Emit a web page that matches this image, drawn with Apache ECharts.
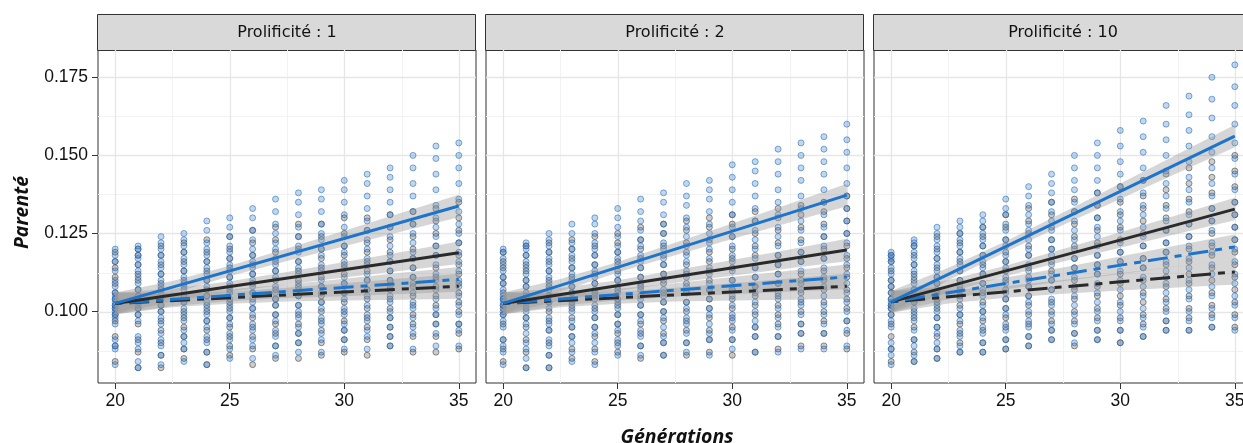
<!DOCTYPE html>
<html><head><meta charset="utf-8">
<script src="https://cdn.jsdelivr.net/npm/echarts@6/dist/echarts.min.js"></script>
<style>html,body{margin:0;padding:0;background:#fff}#c{width:1243px;height:443px}</style>
</head><body><div id="c"></div>
<script>
const generations = [20,21,22,23,24,25,26,27,28,29,30,31,32,33,34,35];
const panelTitles = ['Prolificité : 1','Prolificité : 2','Prolificité : 10'];
const xTicks = [20,25,30,35];
const xMinor = [22.5,27.5,32.5];
const yTicks = [0.100,0.125,0.150,0.175];
const yMinor = [0.0875,0.1125,0.1375,0.1625];

// Panel 1 points (one list per generation)
const blueP1 = [
[.083,.088,.089,.091,.096,.098,.099,.100,.101,.102,.103,.104,.105,.106,.108,.110,.113,.116,.118,.120],
[.082,.084,.088,.090,.092,.097,.099,.101,.102,.103,.105,.107,.109,.111,.113,.115,.117,.118,.120,.121],
[.083,.086,.089,.091,.093,.096,.098,.100,.102,.104,.106,.108,.110,.112,.114,.116,.118,.120,.122,.124],
[.084,.088,.090,.092,.094,.097,.099,.101,.103,.105,.107,.109,.111,.113,.115,.117,.119,.121,.123,.125],
[.083,.087,.090,.092,.095,.097,.099,.101,.103,.105,.108,.110,.112,.114,.116,.118,.120,.122,.126,.129],
[.085,.088,.091,.093,.096,.098,.100,.102,.104,.107,.109,.111,.113,.115,.117,.119,.121,.124,.127,.130],
[.085,.089,.091,.094,.096,.099,.101,.103,.106,.108,.110,.112,.114,.116,.118,.120,.123,.126,.130,.133],
[.086,.089,.092,.094,.097,.099,.102,.104,.106,.108,.111,.113,.115,.117,.120,.122,.125,.128,.132,.136],
[.087,.090,.093,.095,.098,.100,.102,.105,.107,.109,.112,.114,.116,.119,.121,.124,.127,.131,.135,.138],
[.087,.091,.093,.096,.098,.101,.103,.106,.108,.110,.113,.115,.118,.120,.123,.125,.128,.132,.136,.139],
[.088,.091,.094,.096,.099,.101,.104,.106,.109,.111,.114,.116,.119,.121,.124,.127,.131,.135,.139,.142],
[.088,.092,.094,.097,.099,.102,.105,.107,.110,.112,.115,.117,.120,.123,.126,.129,.133,.137,.141,.144],
[.089,.092,.095,.098,.100,.103,.105,.108,.110,.113,.116,.118,.121,.124,.127,.131,.135,.139,.143,.146],
[.088,.093,.095,.098,.101,.103,.106,.109,.111,.114,.117,.119,.122,.125,.128,.132,.137,.141,.146,.150],
[.089,.093,.096,.099,.101,.104,.107,.110,.112,.115,.118,.121,.124,.127,.130,.134,.139,.144,.149,.153],
[.089,.094,.096,.099,.102,.105,.108,.110,.113,.116,.119,.122,.125,.128,.132,.136,.141,.146,.150,.154]
];
const grayP1 = [
[.084,.089,.092,.097,.099,.101,.102,.104,.106,.109,.111,.114,.116,.119],
[.082,.087,.091,.096,.099,.101,.103,.105,.107,.110,.112,.115,.118,.120],
[.082,.086,.090,.094,.097,.100,.102,.104,.107,.109,.112,.115,.118,.121],
[.085,.088,.092,.095,.098,.100,.103,.105,.108,.110,.113,.116,.119,.122],
[.083,.087,.091,.094,.097,.100,.102,.105,.107,.110,.113,.116,.119,.123],
[.086,.089,.092,.095,.098,.101,.103,.106,.108,.111,.114,.117,.120,.124],
[.083,.088,.092,.095,.098,.101,.104,.106,.109,.112,.115,.118,.122,.126],
[.085,.089,.093,.096,.099,.102,.104,.107,.110,.113,.116,.119,.123,.127],
[.085,.090,.093,.096,.099,.102,.105,.108,.110,.113,.116,.120,.124,.128],
[.086,.090,.094,.097,.100,.103,.105,.108,.111,.114,.117,.120,.124,.128],
[.087,.091,.094,.097,.100,.103,.106,.109,.112,.115,.118,.121,.125,.130],
[.086,.091,.095,.098,.101,.104,.107,.110,.113,.116,.119,.122,.126,.130],
[.089,.092,.095,.098,.101,.104,.107,.110,.113,.116,.119,.123,.127,.131],
[.087,.092,.096,.099,.102,.105,.108,.111,.114,.117,.120,.124,.128,.132],
[.087,.092,.096,.099,.102,.105,.108,.111,.114,.118,.121,.125,.129,.133],
[.088,.093,.096,.100,.103,.106,.109,.112,.115,.118,.122,.126,.130,.135]
];
// Panel 2 points
const blueP2 = [
[.083,.087,.089,.091,.095,.097,.099,.100,.102,.103,.104,.105,.107,.109,.111,.113,.115,.117,.119,.120],
[.082,.085,.088,.090,.093,.096,.098,.100,.102,.104,.106,.108,.110,.112,.114,.116,.118,.120,.121,.122],
[.082,.086,.089,.091,.094,.096,.098,.101,.103,.105,.107,.109,.111,.113,.115,.117,.119,.121,.123,.125],
[.084,.087,.090,.092,.095,.097,.100,.102,.104,.106,.108,.110,.112,.114,.116,.118,.120,.122,.125,.128],
[.083,.087,.090,.093,.095,.098,.100,.102,.105,.107,.109,.111,.113,.115,.118,.120,.122,.125,.128,.130],
[.086,.089,.091,.094,.096,.099,.101,.103,.106,.108,.110,.112,.115,.117,.119,.121,.124,.127,.130,.133],
[.086,.089,.092,.094,.097,.099,.102,.104,.107,.109,.111,.114,.116,.118,.121,.123,.126,.129,.132,.136],
[.086,.090,.092,.095,.098,.100,.103,.105,.107,.110,.112,.115,.117,.120,.122,.125,.128,.131,.135,.138],
[.087,.090,.093,.096,.098,.101,.103,.106,.108,.111,.113,.116,.118,.121,.124,.127,.130,.134,.137,.141],
[.086,.091,.093,.096,.099,.101,.104,.107,.109,.112,.114,.117,.120,.122,.125,.128,.132,.136,.139,.142],
[.088,.091,.094,.097,.099,.102,.105,.107,.110,.113,.116,.118,.121,.124,.127,.131,.135,.139,.143,.147],
[.087,.092,.095,.097,.100,.103,.106,.108,.111,.114,.117,.120,.123,.126,.129,.133,.137,.141,.145,.148],
[.087,.092,.095,.098,.101,.104,.106,.109,.112,.115,.118,.121,.124,.127,.131,.135,.139,.144,.148,.152],
[.088,.093,.096,.099,.102,.104,.107,.110,.113,.116,.119,.122,.126,.129,.133,.137,.142,.146,.150,.154],
[.088,.093,.096,.099,.102,.105,.108,.111,.114,.117,.121,.124,.127,.131,.135,.139,.144,.148,.152,.156],
[.089,.094,.097,.100,.103,.106,.109,.112,.115,.118,.122,.125,.129,.133,.137,.141,.146,.151,.155,.160]
];
const grayP2 = [
[.084,.088,.091,.096,.099,.101,.102,.104,.106,.109,.111,.114,.116,.119],
[.082,.087,.091,.095,.098,.101,.103,.105,.108,.110,.113,.115,.118,.121],
[.082,.086,.090,.094,.097,.100,.103,.105,.108,.110,.113,.116,.119,.122],
[.085,.088,.092,.095,.098,.101,.103,.106,.108,.111,.114,.117,.120,.123],
[.084,.088,.092,.095,.098,.101,.104,.106,.109,.112,.115,.118,.121,.124],
[.087,.090,.093,.096,.099,.102,.104,.107,.110,.113,.116,.119,.122,.125],
[.085,.089,.093,.096,.099,.102,.105,.108,.111,.114,.117,.120,.123,.127],
[.086,.090,.093,.097,.100,.103,.106,.109,.112,.115,.118,.121,.125,.128],
[.086,.090,.094,.097,.100,.103,.106,.109,.112,.115,.119,.122,.126,.129],
[.087,.091,.094,.098,.101,.104,.107,.110,.113,.116,.119,.123,.127,.130],
[.086,.091,.095,.098,.101,.104,.107,.110,.114,.117,.120,.124,.128,.131],
[.087,.092,.095,.099,.102,.105,.108,.111,.114,.118,.121,.125,.129,.132],
[.088,.092,.096,.099,.102,.105,.109,.112,.115,.118,.122,.126,.130,.133],
[.089,.093,.096,.100,.103,.106,.109,.112,.116,.119,.123,.127,.131,.134],
[.089,.093,.097,.100,.103,.107,.110,.113,.117,.120,.124,.128,.132,.135],
[.088,.093,.097,.101,.104,.107,.111,.114,.117,.121,.125,.129,.133,.137]
];
// Panel 3 points
const blueP3 = [
[.083,.086,.088,.090,.095,.097,.099,.101,.102,.103,.104,.106,.108,.110,.112,.114,.116,.117,.118,.119],
[.084,.086,.089,.091,.094,.097,.099,.101,.103,.105,.107,.109,.111,.113,.115,.117,.119,.121,.122,.123],
[.085,.088,.090,.093,.095,.098,.100,.102,.104,.107,.109,.111,.113,.115,.117,.119,.121,.123,.125,.127],
[.087,.089,.092,.094,.097,.099,.101,.104,.106,.108,.110,.113,.115,.117,.119,.121,.123,.125,.127,.129],
[.087,.090,.093,.095,.098,.100,.102,.105,.107,.109,.112,.114,.116,.118,.121,.123,.125,.127,.129,.131],
[.088,.091,.094,.096,.099,.101,.104,.106,.109,.111,.114,.116,.118,.121,.123,.126,.128,.131,.133,.136],
[.089,.092,.095,.097,.100,.103,.105,.108,.110,.113,.115,.118,.120,.123,.126,.128,.131,.134,.137,.140],
[.091,.094,.096,.099,.102,.104,.107,.110,.112,.115,.118,.120,.123,.126,.129,.132,.135,.138,.141,.144],
[.090,.093,.096,.099,.102,.105,.108,.111,.114,.117,.120,.123,.126,.129,.132,.135,.139,.142,.146,.150],
[.091,.094,.097,.100,.103,.106,.109,.112,.115,.118,.121,.124,.127,.130,.134,.138,.142,.146,.150,.154],
[.090,.094,.097,.100,.103,.107,.110,.113,.116,.119,.122,.126,.129,.132,.136,.140,.144,.148,.153,.158],
[.092,.095,.098,.101,.105,.108,.111,.114,.117,.121,.124,.127,.131,.134,.138,.142,.146,.151,.156,.161],
[.094,.097,.100,.103,.106,.109,.113,.116,.119,.122,.126,.129,.133,.137,.141,.145,.150,.155,.160,.166],
[.094,.097,.100,.104,.107,.110,.114,.117,.121,.124,.128,.131,.135,.139,.143,.148,.153,.158,.163,.169],
[.095,.098,.101,.105,.108,.112,.115,.119,.122,.126,.129,.133,.137,.141,.146,.151,.156,.162,.168,.175],
[.094,.098,.102,.105,.109,.112,.116,.120,.123,.127,.131,.135,.139,.144,.149,.154,.160,.166,.172,.179]
];
const grayP3 = [
[.084,.088,.092,.096,.099,.101,.102,.104,.106,.108,.110,.113,.116,.118],
[.084,.087,.091,.095,.098,.100,.103,.105,.107,.110,.112,.115,.118,.121],
[.085,.088,.092,.095,.098,.101,.103,.106,.109,.111,.114,.117,.120,.124],
[.087,.090,.093,.096,.099,.102,.105,.107,.110,.113,.116,.119,.122,.125],
[.087,.090,.094,.097,.100,.103,.106,.109,.112,.115,.118,.121,.124,.127],
[.088,.091,.095,.098,.101,.104,.107,.110,.113,.116,.119,.123,.127,.131],
[.089,.092,.096,.099,.102,.105,.108,.111,.114,.118,.121,.125,.129,.133],
[.091,.094,.097,.100,.103,.107,.110,.113,.116,.120,.123,.127,.131,.135],
[.089,.093,.097,.100,.104,.107,.110,.114,.117,.121,.124,.128,.132,.136],
[.091,.094,.098,.101,.105,.108,.112,.115,.118,.122,.126,.130,.134,.138],
[.090,.094,.098,.102,.105,.109,.112,.116,.119,.123,.127,.131,.135,.140],
[.092,.096,.099,.103,.106,.110,.114,.117,.121,.125,.129,.133,.137,.142],
[.094,.097,.101,.104,.108,.111,.115,.119,.122,.126,.130,.134,.139,.144],
[.094,.098,.101,.105,.109,.112,.116,.120,.124,.128,.132,.136,.141,.146],
[.095,.099,.102,.106,.110,.114,.118,.121,.125,.129,.133,.138,.143,.148],
[.095,.099,.103,.107,.111,.115,.119,.123,.127,.131,.135,.140,.145,.150]
];

// Fitted lines (value at generation 20 and 35), one pair per panel
const fitX = [20,35];
const blueSolidFit  = [[.1026,.1338],[.1026,.1373],[.1031,.1562]];
const blackSolidFit = [[.1026,.1188],[.1026,.1197],[.1031,.1328]];
const blueDashFit   = [[.1026,.1103],[.1026,.1111],[.1031,.1207]];
const blackDashFit  = [[.1026,.1081],[.1026,.1081],[.1031,.1127]];

// Confidence bands
const bandX = [20,22.5,25,27.5,30,32.5,35];
const blueSolidLo = [[.0991,.1058,.1113,.1162,.1209,.1256,.1302],[.0991,.1064,.1125,.1180,.1232,.1285,.1337],[.0996,.1100,.1191,.1277,.1360,.1444,.1526]];
const blueSolidHi = [[.1061,.1098,.1147,.1202,.1259,.1316,.1374],[.1061,.1104,.1159,.1220,.1282,.1345,.1409],[.1066,.1140,.1225,.1317,.1410,.1504,.1598]];
const blackSolidLo = [[.0991,.1033,.1063,.1087,.1109,.1131,.1152],[.0991,.1035,.1066,.1092,.1115,.1139,.1161],[.0996,.1061,.1113,.1160,.1204,.1249,.1292]];
const blackSolidHi = [[.1061,.1073,.1097,.1127,.1159,.1191,.1224],[.1061,.1075,.1100,.1132,.1165,.1199,.1233],[.1066,.1101,.1147,.1200,.1254,.1309,.1364]];
const blueDashLo = [[.0991,.1018,.1033,.1043,.1049,.1056,.1063],[.0991,.1019,.1035,.1047,.1055,.1063,.1071],[.0996,.1039,.1071,.1097,.1120,.1144,.1167]];
const blueDashHi = [[.1061,.1060,.1071,.1087,.1105,.1124,.1143],[.1061,.1061,.1073,.1091,.1111,.1131,.1151],[.1066,.1081,.1109,.1141,.1176,.1212,.1247]];
const blackDashLo = [[.0991,.1014,.1025,.1032,.1035,.1038,.1041],[.0991,.1014,.1025,.1032,.1035,.1038,.1041],[.0996,.1026,.1044,.1057,.1067,.1077,.1087]];
const blackDashHi = [[.1061,.1056,.1063,.1076,.1091,.1106,.1121],[.1061,.1056,.1063,.1076,.1091,.1106,.1121],[.1066,.1068,.1082,.1101,.1123,.1145,.1167]];

const X_MIN = 19.25, X_MAX = 35.75, Y_MIN = 0.07712, Y_MAX = 0.18375;
const gridLeft = [98, 486, 874];
const GRID_TOP = 50, GRID_W = 378, GRID_H = 333;
const BLUE = '#1C74CC', DARK = '#2A2A2A';
const TICK_FONT = 'Liberation Sans';

const chart = echarts.init(document.getElementById('c'), null, {renderer:'canvas'});

const grids = [], xAxes = [], yAxes = [], series = [];
const blues = [blueP1, blueP2, blueP3], grays = [grayP1, grayP2, grayP3];

for (let p = 0; p < 3; p++) {
  grids.push({left: gridLeft[p], top: GRID_TOP, width: GRID_W, height: GRID_H, show: true,
    backgroundColor: '#fff', borderColor: '#333', borderWidth: 1, containLabel: false, outerBoundsMode: 'none'});
  xAxes.push({type: 'value', gridIndex: p, min: X_MIN, max: X_MAX,
    axisLine: {show: false}, splitLine: {show: false},
    axisTick: {show: true, customValues: xTicks, length: 6, lineStyle: {color: '#333', width: 1}},
    axisLabel: {customValues: xTicks, margin: 9, color: '#111', fontSize: 17.5, fontFamily: TICK_FONT}});
  yAxes.push({type: 'value', gridIndex: p, min: Y_MIN, max: Y_MAX,
    axisLine: {show: false}, splitLine: {show: false},
    axisTick: {show: p === 0, customValues: yTicks, length: 6, lineStyle: {color: '#333', width: 1}},
    axisLabel: {show: p === 0, customValues: yTicks, margin: 10, color: '#111', fontSize: 17.5, fontFamily: TICK_FONT,
      formatter: v => v.toFixed(3)}});

  // grid lines
  series.push({type: 'custom', xAxisIndex: p, yAxisIndex: p, silent: true, z: 0, data: [[20, 0.1]],
    renderItem: (params, api) => {
      const cs = params.coordSys, ch = [];
      xMinor.forEach(v => { const px = Math.round(api.coord([v, 0.1])[0]) + 0.5;
        ch.push({type: 'line', shape: {x1: px, y1: cs.y, x2: px, y2: cs.y + cs.height}, style: {stroke: '#F2F2F2', lineWidth: 1}}); });
      yMinor.forEach(v => { const py = Math.round(api.coord([20, v])[1]) + 0.5;
        ch.push({type: 'line', shape: {x1: cs.x, y1: py, x2: cs.x + cs.width, y2: py}, style: {stroke: '#F2F2F2', lineWidth: 1}}); });
      xTicks.forEach(v => { const px = Math.round(api.coord([v, 0.1])[0]) + 0.5;
        ch.push({type: 'line', shape: {x1: px, y1: cs.y, x2: px, y2: cs.y + cs.height}, style: {stroke: '#E6E6E6', lineWidth: 1.3}}); });
      yTicks.forEach(v => { const py = Math.round(api.coord([20, v])[1]) + 0.5;
        ch.push({type: 'line', shape: {x1: cs.x, y1: py, x2: cs.x + cs.width, y2: py}, style: {stroke: '#E6E6E6', lineWidth: 1.3}}); });
      return {type: 'group', children: ch};
    }});

  const mk = (arr) => generations.flatMap((g, i) => arr[i].map(v => [g, v]));
  series.push({type: 'scatter', xAxisIndex: p, yAxisIndex: p, data: mk(grays[p]), symbolSize: 6, z: 1, silent: true,
    itemStyle: {color: 'rgba(90,90,90,0.38)', borderColor: 'rgba(50,50,50,0.65)', borderWidth: 1}});
  series.push({type: 'scatter', xAxisIndex: p, yAxisIndex: p, data: mk(blues[p]), symbolSize: 6, z: 1, silent: true,
    itemStyle: {color: 'rgba(55,125,200,0.38)', borderColor: 'rgba(28,100,185,0.68)', borderWidth: 1}});

  const band = (lo, hi) => ({type: 'custom', xAxisIndex: p, yAxisIndex: p, silent: true, z: 2, data: [[20, 0.1]], clip: true,
    renderItem: (params, api) => {
      const pts = [];
      bandX.forEach((x, i) => pts.push(api.coord([x, hi[i]])));
      for (let i = bandX.length - 1; i >= 0; i--) pts.push(api.coord([bandX[i], lo[i]]));
      return {type: 'polygon', shape: {points: pts}, style: {fill: 'rgba(153,153,153,0.4)'}};
    }});
  series.push(band(blueSolidLo[p], blueSolidHi[p]));
  series.push(band(blackSolidLo[p], blackSolidHi[p]));
  series.push(band(blueDashLo[p], blueDashHi[p]));
  series.push(band(blackDashLo[p], blackDashHi[p]));

  const line = (fit, color, dashed) => ({type: 'line', xAxisIndex: p, yAxisIndex: p, silent: true, z: 3,
    data: fitX.map((x, i) => [x, fit[i]]), symbol: 'none',
    lineStyle: {color: color, width: 3, type: dashed ? [7, 7, 20, 7] : 'solid', cap: 'butt'}});
  series.push(line(blackDashFit[p], DARK, true));
  series.push(line(blueDashFit[p], BLUE, true));
  series.push(line(blackSolidFit[p], DARK, false));
  series.push(line(blueSolidFit[p], BLUE, false));
}

const graphics = panelTitles.map((t, i) => ({type: 'group', x: gridLeft[i], y: 14, silent: true, children: [
  {type: 'rect', shape: {x: -0.5, y: 0.5, width: GRID_W, height: 36}, style: {fill: '#D9D9D9', stroke: '#333', lineWidth: 1}},
  {type: 'text', x: GRID_W / 2, y: 19, style: {text: t, textAlign: 'center', textVerticalAlign: 'middle',
    font: '16px "DejaVu Sans"', fill: '#111'}}
]}));
graphics.push({type: 'text', x: 22, y: 212.5, rotation: Math.PI / 2, silent: true,
  style: {text: 'Parenté', textAlign: 'center', textVerticalAlign: 'middle', font: 'italic bold 19.5px "Open Sans"', fill: '#111'}});
graphics.push({type: 'text', x: 677, y: 437, silent: true,
  style: {text: 'Générations', textAlign: 'center', textVerticalAlign: 'middle', font: 'italic bold 19.5px "Open Sans"', fill: '#111'}});

chart.setOption({animation: false, grid: grids, xAxis: xAxes, yAxis: yAxes, series: series, graphic: graphics});
</script></body></html>
